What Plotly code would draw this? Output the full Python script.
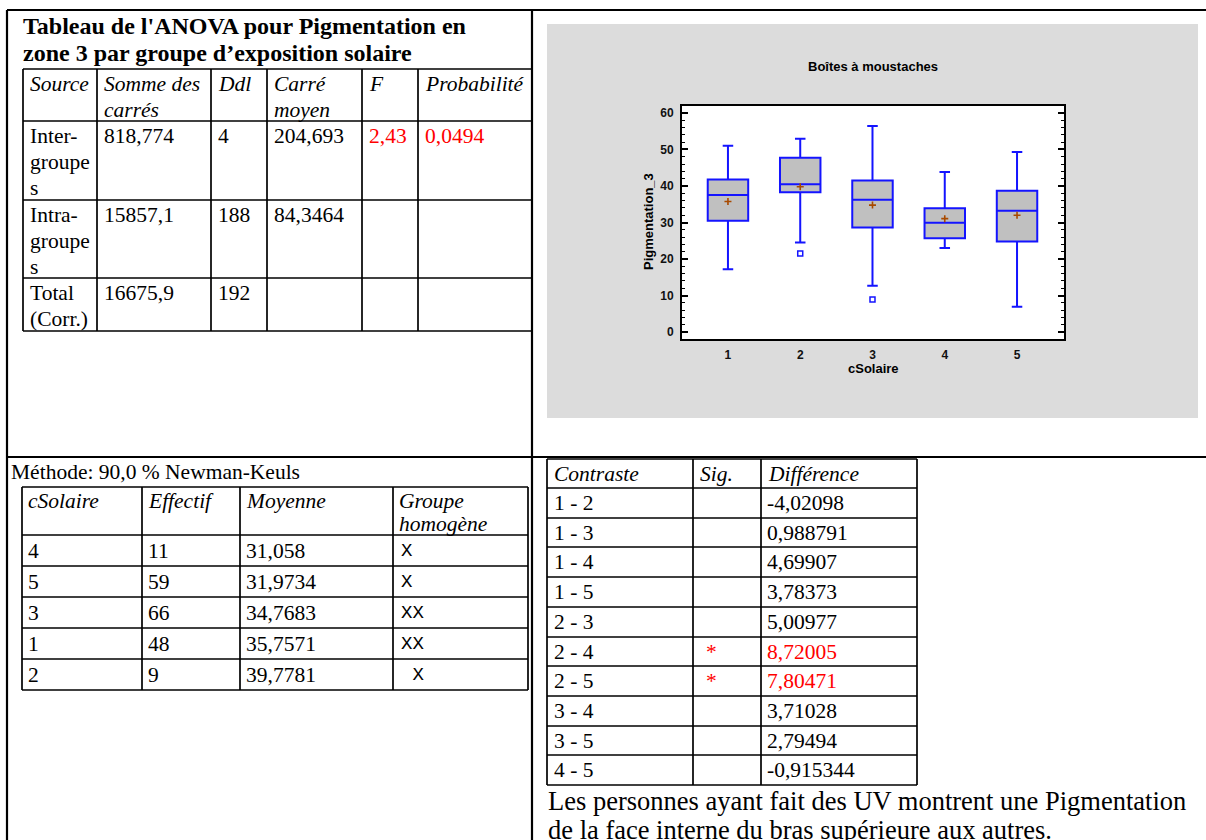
import plotly.graph_objects as go

W, H = 1206, 840
SERIF = "Liberation Serif, Times New Roman, serif"
SANS = "Liberation Sans, Arial, sans-serif"
MONO = "Liberation Mono, Courier New, monospace"
RED = "#ff0000"

# ---------------- data: ANOVA table ----------------
anova_title = ["Tableau de l'ANOVA pour Pigmentation en",
               "zone 3 par groupe d’exposition solaire"]
anova_headers = ["Source", "Somme des\ncarrés", "Ddl", "Carré\nmoyen", "F", "Probabilité"]
anova_sources = ["Inter-\ngroupe\ns", "Intra-\ngroupe\ns", "Total\n(Corr.)"]
anova_ss = ["818,774", "15857,1", "16675,9"]
anova_df = ["4", "188", "192"]
anova_ms = ["204,693", "84,3464", ""]
anova_f = ["2,43", "", ""]
anova_p = ["0,0494", "", ""]

# ---------------- data: Newman-Keuls ----------------
nk_method = "Méthode: 90,0 % Newman-Keuls"
nk_headers = ["cSolaire", "Effectif", "Moyenne", "Groupe\nhomogène"]
nk_levels = ["4", "5", "3", "1", "2"]
nk_counts = ["11", "59", "66", "48", "9"]
nk_means = ["31,058", "31,9734", "34,7683", "35,7571", "39,7781"]
nk_groups = ["X", "X", "XX", "XX", "\u00a0X"]

# ---------------- data: contrasts ----------------
ct_headers = ["Contraste", "Sig.", "Différence"]
ct_pairs = ["1 - 2", "1 - 3", "1 - 4", "1 - 5", "2 - 3", "2 - 4", "2 - 5", "3 - 4", "3 - 5", "4 - 5"]
ct_sig = ["", "", "", "", "", "*", "*", "", "", ""]
ct_diff = ["-4,02098", "0,988791", "4,69907", "3,78373", "5,00977", "8,72005",
           "7,80471", "3,71028", "2,79494", "-0,915344"]
conclusion = ["Les personnes ayant fait des UV montrent une Pigmentation",
              "de la face interne du bras supérieure aux autres."]

# ---------------- data: box plot ----------------
box_title = "Boîtes à moustaches"
box_cats = ["1", "2", "3", "4", "5"]
box_lower = [17.2, 24.5, 12.7, 23.0, 6.9]
box_q1 = [30.5, 38.3, 28.6, 25.7, 24.8]
box_median = [37.5, 40.5, 36.2, 29.9, 33.2]
box_q3 = [41.8, 47.7, 41.5, 33.9, 38.7]
box_upper = [51.0, 52.9, 56.4, 43.8, 49.3]
box_means = [35.7571, 39.7781, 34.7683, 31.058, 31.9734]
outlier_cats = ["2", "3"]
outlier_vals = [21.5, 8.9]
y_ticks = [0, 10, 20, 30, 40, 50, 60]

# ---------------- helpers (layout only) ----------------
shapes, annotations = [], []


def px(x):
    return x / W


def py(y):
    return 1 - y / H


def hline(x0, x1, y, w=1.7):
    shapes.append(dict(type="line", xref="paper", yref="paper", x0=px(x0), x1=px(x1),
                       y0=py(y), y1=py(y), line=dict(color="black", width=w), layer="above"))


def vline(x, y0, y1, w=1.7):
    shapes.append(dict(type="line", xref="paper", yref="paper", x0=px(x), x1=px(x),
                       y0=py(y0), y1=py(y1), line=dict(color="black", width=w), layer="above"))


def text(x, y, s, size=21.5, color="black", family=SERIF, anchor="left", angle=0):
    annotations.append(dict(xref="paper", yref="paper", x=px(x), y=py(y), text=s,
                            showarrow=False, xanchor=anchor, yanchor="middle", textangle=angle,
                            font=dict(family=family, size=size, color=color), borderpad=0))


def draw_grid(col_x, row_y, w=1.7):
    for y in row_y:
        hline(col_x[0], col_x[-1], y, w)
    for x in col_x:
        vline(x, row_y[0], row_y[-1], w)


def cell(col_x, row_y, r, c, s, first=15, ls=25.8, pad=6, **kw):
    for i, line in enumerate(s.split("\n")):
        if line:
            text(col_x[c] + pad, row_y[r] + first + i * ls, line, **kw)


# ---------------- outer frame ----------------
hline(7, W, 10, 2.2)
hline(7, W, 457, 2.2)
vline(7, 10, H, 2.2)
vline(532, 10, H, 2.2)

# ---------------- ANOVA table ----------------
text(22, 25.5, "<b>" + anova_title[0] + "</b>", size=24)
text(22, 53, "<b>" + anova_title[1] + "</b>", size=24)
a_cols = [23, 97, 211, 267, 362, 418, 532]
a_rows = [69, 121, 200, 278, 331]
draw_grid(a_cols, a_rows)
for c, h in enumerate(anova_headers):
    cell(a_cols, a_rows, 0, c, "<i>" + h.replace("\n", "</i>\n<i>") + "</i>")
for r in range(3):
    vals = [anova_sources[r], anova_ss[r], anova_df[r], anova_ms[r], anova_f[r], anova_p[r]]
    for c, v in enumerate(vals):
        col = RED if c >= 4 else "black"
        cell(a_cols, a_rows, r + 1, c, v, color=col)

# ---------------- Newman-Keuls table ----------------
text(10, 472, nk_method, size=21.5)
n_cols = [22, 142, 240, 393, 528]
n_rows = [487, 535, 566, 597, 628, 659, 690]
draw_grid(n_cols, n_rows)
for c, h in enumerate(nk_headers):
    cell(n_cols, n_rows, 0, c, "<i>" + h.replace("\n", "</i>\n<i>") + "</i>", first=14, ls=23, pad=5)
for r in range(5):
    for c, v in enumerate([nk_levels[r], nk_counts[r], nk_means[r]]):
        cell(n_cols, n_rows, r + 1, c, v, first=15.5, pad=5)
    cell(n_cols, n_rows, r + 1, 3, nk_groups[r], first=15.5, pad=7, family=MONO, size=19)

# ---------------- contrasts table ----------------
c_cols = [547, 693, 761, 917]
c_rows = [459, 488, 518, 547, 577, 607, 637, 666, 696, 726, 755, 785]
draw_grid(c_cols, c_rows)
for c, h in enumerate(ct_headers):
    cell(c_cols, c_rows, 0, c, "<i>" + h + "</i>", first=14.5, pad=6)
for r in range(10):
    red = ct_sig[r] != ""
    cell(c_cols, c_rows, r + 1, 0, ct_pairs[r], first=15, pad=6)
    if ct_sig[r]:
        text(711, (c_rows[r + 1] + c_rows[r + 2]) / 2, ct_sig[r], color=RED, anchor="center")
    cell(c_cols, c_rows, r + 1, 2, ct_diff[r], first=15, pad=5, color=RED if red else "black")
text(547, 801, conclusion[0], size=26.5)
text(547, 830, conclusion[1], size=26.5)

# ---------------- box plot panel ----------------
shapes.insert(0, dict(type="rect", xref="paper", yref="paper", x0=px(547), x1=px(1198),
                      y0=py(418), y1=py(24), fillcolor="#dcdcdc", line=dict(width=0), layer="below"))
PL, PR, PT, PB = 682, 1064, 106, 339
shapes.insert(1, dict(type="rect", xref="paper", yref="paper", x0=px(PL), x1=px(PR),
                      y0=py(PB), y1=py(PT), fillcolor="white", line=dict(width=0), layer="below"))

text(873, 67, "<b>" + box_title + "</b>", size=13, family=SANS, anchor="center")
text(873, 368, "<b>cSolaire</b>", size=13, family=SANS, anchor="center")
text(649, 222, "<b>Pigmentation_3</b>", size=13, family=SANS, anchor="center", angle=-90)

fig = go.Figure()
fig.add_trace(go.Box(
    x=box_cats, q1=box_q1, median=box_median, q3=box_q3,
    lowerfence=box_lower, upperfence=box_upper,
    fillcolor="#c0c0c0", line=dict(color="#1414ff", width=2),
    whiskerwidth=0.26, boxpoints=False, showlegend=False, hoverinfo="skip"))
fig.add_trace(go.Scatter(
    x=box_cats, y=box_means, mode="markers", showlegend=False, hoverinfo="skip",
    marker=dict(symbol="cross-thin", size=5, line=dict(color="#a84a00", width=1.6))))
fig.add_trace(go.Scatter(
    x=outlier_cats, y=outlier_vals, mode="markers", showlegend=False, hoverinfo="skip",
    marker=dict(symbol="square-open", size=5, color="#1414ff", line=dict(width=1.5))))

tickfont = dict(family=SANS, size=12, color="#111", weight="bold")
fig.update_layout(
    width=W, height=H, autosize=False,
    margin=dict(l=0, r=0, t=0, b=0),
    paper_bgcolor="white", plot_bgcolor="white",
    boxgap=0.2, showlegend=False,
    shapes=shapes, annotations=annotations,
    xaxis=dict(domain=[px(PL), px(PR)], type="category", range=[-0.636, 4.65],
               showline=True, linecolor="black", linewidth=2, mirror=True,
               ticks="", showgrid=False, zeroline=False, tickfont=tickfont,
               ticklabelstandoff=4),
    yaxis=dict(domain=[py(PB), py(PT)], range=[-1.9, 61.9], tickvals=y_ticks,
               showline=True, linecolor="black", linewidth=2, mirror="allticks",
               ticks="inside", ticklen=6, tickwidth=1.5, tickcolor="black",
               minor=dict(ticks="inside", ticklen=3, dtick=2, tickcolor="black", tickwidth=1),
               showgrid=False, zeroline=False, tickfont=tickfont, ticklabelstandoff=4),
)

fig.write_html("out.html", config={"displayModeBar": False},
               post_script="document.body.style.margin='0';document.body.style.overflow='hidden';")
